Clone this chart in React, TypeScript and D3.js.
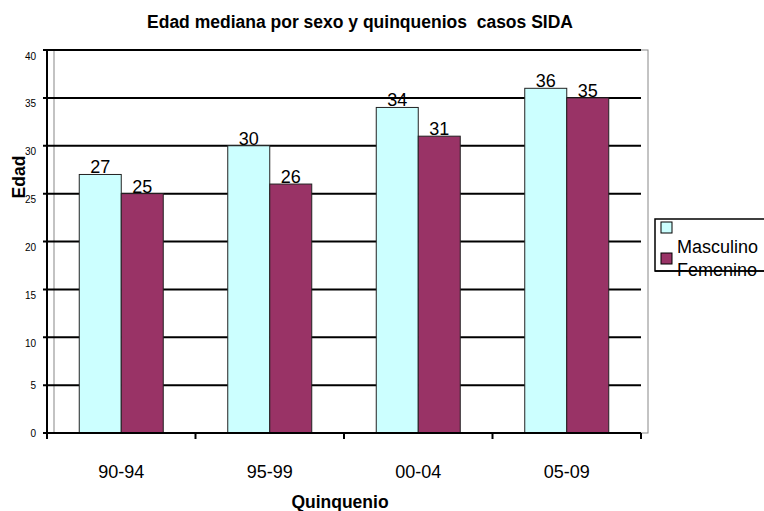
import React from "react";
import * as d3 from "d3";

const categories = ["90-94", "95-99", "00-04", "05-09"];
const masculino = [27, 30, 34, 36];
const femenino = [25, 26, 31, 35];
const seriesNames = ["Masculino", "Femenino"];
const seriesColors = ["#CCFFFF", "#993366"];
const yTicks = [0, 5, 10, 15, 20, 25, 30, 35, 40];

const W = 764;
const H = 511;
const FONT = "'Liberation Sans', Arial, sans-serif";

const App = () => {
  const ref = React.useRef<SVGSVGElement>(null);

  React.useEffect(() => {
    const svg = d3.select(ref.current);
    svg.selectAll("*").remove();

    const left = 47;
    const right = 641;
    const top = 50;
    const bottom = 433;

    const y = d3.scaleLinear().domain([0, 40]).range([bottom, top]);
    const x0 = d3.scaleBand().domain(categories).range([left, right]).padding(0);
    const bw = x0.bandwidth();
    const barW = 42;
    const x1 = d3
      .scaleBand()
      .domain(seriesNames)
      .range([(bw - 2 * barW) / 2, (bw + 2 * barW) / 2])
      .padding(0);

    // plot area border (thin gray)
    svg
      .append("rect")
      .attr("x", 54)
      .attr("y", top)
      .attr("width", 648 - 54)
      .attr("height", bottom - top)
      .attr("fill", "none")
      .attr("stroke", "#888")
      .attr("stroke-width", 1);

    // gridlines
    svg
      .append("g")
      .selectAll("line")
      .data(yTicks.filter(d => d > 0))
      .join("line")
      .attr("x1", left - 4)
      .attr("x2", right)
      .attr("y1", d => y(d))
      .attr("y2", d => y(d))
      .attr("stroke", "#000")
      .attr("stroke-width", 2);

    // y tick labels
    svg
      .append("g")
      .selectAll("text")
      .data(yTicks)
      .join("text")
      .attr("x", 36)
      .attr("y", d => y(d) + (d <= 5 ? 3.5 : 9.5))
      .attr("text-anchor", "end")
      .style("font-family", FONT)
      .style("font-size", "10px")
      .attr("fill", "#000")
      .text(d => d);

    const series = [masculino, femenino];
    const groups = svg
      .append("g")
      .selectAll("g")
      .data(categories)
      .join("g")
      .attr("transform", d => `translate(${x0(d)},0)`);

    groups
      .selectAll("rect")
      .data((_, i) => seriesNames.map((s, j) => ({ s, j, v: series[j][i] })))
      .join("rect")
      .attr("x", d => x1(d.s)!)
      .attr("y", d => y(d.v))
      .attr("width", x1.bandwidth())
      .attr("height", d => bottom - y(d.v))
      .attr("fill", d => seriesColors[d.j])
      .attr("stroke", "#222")
      .attr("stroke-width", 1);

    groups
      .selectAll("text")
      .data((_, i) => seriesNames.map((s, j) => ({ s, j, v: series[j][i] })))
      .join("text")
      .attr("x", d => x1(d.s)! + x1.bandwidth() / 2)
      .attr("y", d => y(d.v) - 1)
      .attr("text-anchor", "middle")
      .style("font-family", FONT)
      .style("font-size", "18px")
      .attr("fill", "#000")
      .text(d => d.v);

    // y axis
    svg
      .append("line")
      .attr("x1", left)
      .attr("x2", left)
      .attr("y1", top)
      .attr("y2", bottom + 5)
      .attr("stroke", "#000")
      .attr("stroke-width", 2);

    // x axis
    svg
      .append("line")
      .attr("x1", left - 4)
      .attr("x2", right)
      .attr("y1", bottom)
      .attr("y2", bottom)
      .attr("stroke", "#000")
      .attr("stroke-width", 2);

    const edges = categories.map(c => x0(c)!).concat([right]);
    svg
      .append("g")
      .selectAll("line")
      .data(edges)
      .join("line")
      .attr("x1", d => d)
      .attr("x2", d => d)
      .attr("y1", bottom)
      .attr("y2", bottom + 6)
      .attr("stroke", "#000")
      .attr("stroke-width", 2);

    svg
      .append("g")
      .selectAll("text")
      .data(categories)
      .join("text")
      .attr("x", d => x0(d)! + bw / 2)
      .attr("y", 478)
      .attr("text-anchor", "middle")
      .style("font-family", FONT)
      .style("font-size", "18px")
      .attr("fill", "#000")
      .text(d => d);

    // title
    svg
      .append("text")
      .attr("x", 360)
      .attr("y", 28)
      .attr("text-anchor", "middle")
      .style("font-family", FONT)
      .style("font-size", "17.5px")
      .style("font-weight", "bold")
      .style("white-space", "pre")
      .text("Edad mediana por sexo y quinquenios  casos SIDA");

    svg
      .append("text")
      .attr("x", 340)
      .attr("y", 508)
      .attr("text-anchor", "middle")
      .style("font-family", FONT)
      .style("font-size", "17.5px")
      .style("font-weight", "bold")
      .text("Quinquenio");

    svg
      .append("text")
      .attr("transform", "translate(25,177) rotate(-90)")
      .attr("text-anchor", "middle")
      .style("font-family", FONT)
      .style("font-size", "17.5px")
      .style("font-weight", "bold")
      .text("Edad");

    // legend
    const lg = svg.append("g");
    lg.append("rect")
      .attr("x", 655)
      .attr("y", 219)
      .attr("width", 130)
      .attr("height", 52)
      .attr("fill", "none")
      .attr("stroke", "#000")
      .attr("stroke-width", 1.5);
    seriesNames.forEach((s, i) => {
      lg.append("rect")
        .attr("x", 661)
        .attr("y", 222 + i * 31)
        .attr("width", 11)
        .attr("height", 11)
        .attr("fill", seriesColors[i])
        .attr("stroke", "#000")
        .attr("stroke-width", 1);
      lg.append("text")
        .attr("x", 677)
        .attr("y", 253 + i * 23)
        .style("font-family", FONT)
        .style("font-size", "18px")
        .text(s);
    });
    // legend bottom border drawn over text (as in the original)
    lg.append("line")
      .attr("x1", 655)
      .attr("x2", 764)
      .attr("y1", 271)
      .attr("y2", 271)
      .attr("stroke", "#000")
      .attr("stroke-width", 1.5);
  }, []);

  return (
    <svg
      ref={ref}
      width={W}
      height={H}
      style={{ position: "absolute", left: 0, top: 0, background: "#fff" }}
    />
  );
};

export default App;
